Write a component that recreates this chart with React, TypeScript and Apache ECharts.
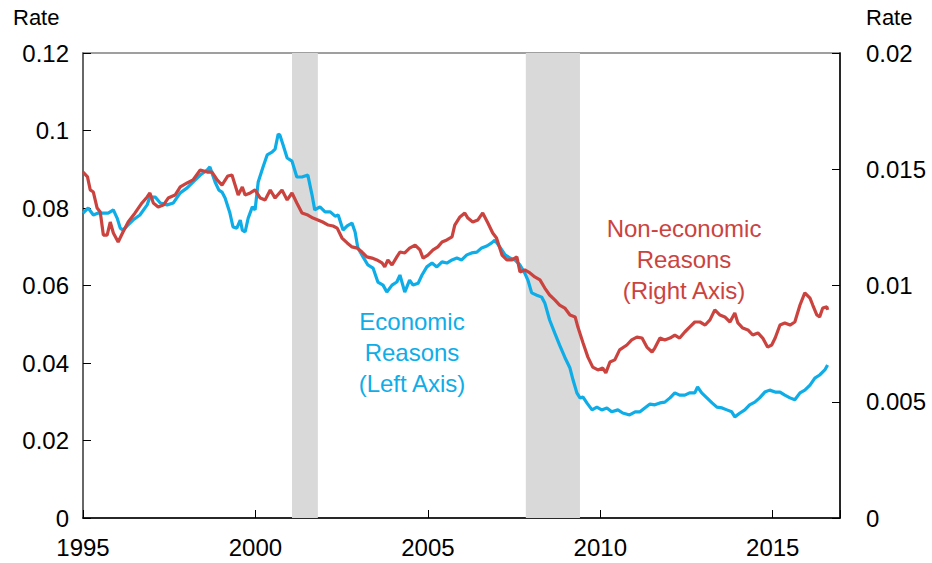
import React, { useEffect, useRef } from "react";
import * as echarts from "echarts";

const econYears = [
  1995.0, 1995.15, 1995.3, 1995.44, 1995.59, 1995.73, 1995.88, 1995.99, 1996.08, 1996.16,
  1996.28, 1996.45, 1996.65, 1996.86, 1996.94, 1997.1, 1997.24, 1997.44, 1997.62, 1997.82,
  1998.02, 1998.19, 1998.4, 1998.6, 1998.68, 1998.83, 1998.94, 1999.03, 1999.12, 1999.26,
  1999.35, 1999.46, 1999.56, 1999.62, 1999.7, 1999.79, 1999.91, 1999.99, 2000.08, 2000.22,
  2000.34, 2000.48, 2000.57, 2000.66, 2000.71, 2000.8, 2000.92, 2001.06, 2001.2, 2001.35,
  2001.52, 2001.64, 2001.72, 2001.87, 2002.02, 2002.17, 2002.31, 2002.4, 2002.54, 2002.66,
  2002.8, 2002.89, 2002.97, 2003.12, 2003.26, 2003.41, 2003.55, 2003.7, 2003.81, 2003.96,
  2004.1, 2004.19, 2004.33, 2004.47, 2004.57, 2004.72, 2004.83, 2004.97, 2005.12, 2005.26,
  2005.41, 2005.55, 2005.7, 2005.84, 2005.98, 2006.13, 2006.27, 2006.42, 2006.56, 2006.71,
  2006.85, 2006.94, 2007.09, 2007.24, 2007.38, 2007.52, 2007.67, 2007.81, 2007.9, 2008.01,
  2008.16, 2008.3, 2008.39, 2008.53, 2008.68, 2008.82, 2008.97, 2009.12, 2009.21, 2009.32,
  2009.41, 2009.5, 2009.61, 2009.76, 2009.9, 2010.04, 2010.19, 2010.33, 2010.51, 2010.65,
  2010.85, 2011.01, 2011.15, 2011.29, 2011.44, 2011.58, 2011.73, 2011.87, 2012.02, 2012.16,
  2012.3, 2012.45, 2012.59, 2012.74, 2012.82, 2012.94, 2013.09, 2013.24, 2013.38, 2013.53,
  2013.67, 2013.81, 2013.9, 2014.05, 2014.19, 2014.33, 2014.48, 2014.62, 2014.77, 2014.91,
  2015.07, 2015.21, 2015.35, 2015.5, 2015.64, 2015.79, 2015.93, 2016.08, 2016.22, 2016.36,
  2016.51, 2016.59,
];
const econRates = [
  0.0787, 0.08, 0.0782, 0.0787, 0.0787, 0.0787, 0.0795, 0.0774, 0.0748, 0.0743,
  0.0754, 0.0769, 0.0782, 0.0808, 0.0828, 0.0828, 0.0813, 0.0808, 0.0813, 0.0839,
  0.0852, 0.0867, 0.0885, 0.0898, 0.0906, 0.0867, 0.0846, 0.0841, 0.0826, 0.0787,
  0.0751, 0.0748, 0.0769, 0.0743, 0.0738, 0.0774, 0.0803, 0.0795, 0.0867, 0.0906,
  0.0937, 0.0944, 0.0952, 0.0991, 0.0988, 0.0963, 0.0929, 0.0921, 0.088, 0.088,
  0.0885, 0.0834, 0.0795, 0.0803, 0.079, 0.079, 0.0779, 0.0782, 0.0743, 0.0754,
  0.0761, 0.0738, 0.0697, 0.0674, 0.0653, 0.0645, 0.0609, 0.0601, 0.0583, 0.0601,
  0.0609, 0.0627, 0.0583, 0.0614, 0.0601, 0.0606, 0.0627, 0.0648, 0.0658, 0.0648,
  0.0661, 0.0658, 0.0666, 0.0671, 0.0666, 0.0679, 0.0684, 0.0686, 0.0697, 0.0702,
  0.071, 0.0717, 0.0699, 0.0679, 0.0671, 0.0666, 0.0653, 0.0632, 0.0614, 0.0581,
  0.0575, 0.057, 0.0555, 0.0511, 0.0477, 0.0446, 0.0415, 0.0387, 0.0356, 0.0323,
  0.031, 0.0312, 0.0297, 0.0279, 0.0286, 0.0279, 0.0284, 0.0274, 0.0279, 0.0271,
  0.0266, 0.0274, 0.0274, 0.0284, 0.0294, 0.0292, 0.0297, 0.0299, 0.031, 0.0323,
  0.0317, 0.0317, 0.0323, 0.0323, 0.0338, 0.0323, 0.031, 0.0297, 0.0286, 0.0284,
  0.0279, 0.0274, 0.0261, 0.0271, 0.0279, 0.0292, 0.0299, 0.031, 0.0325, 0.033,
  0.0325, 0.0325, 0.0317, 0.031, 0.0305, 0.0323, 0.033, 0.0343, 0.0361, 0.0369,
  0.0382, 0.0395,
];

const nonEconYears = [
  1995.0, 1995.13, 1995.21, 1995.3, 1995.41, 1995.5, 1995.59, 1995.7, 1995.79, 1995.88,
  1996.02, 1996.16, 1996.31, 1996.51, 1996.71, 1996.86, 1996.94, 1997.04, 1997.18, 1997.33,
  1997.47, 1997.67, 1997.82, 1998.02, 1998.19, 1998.4, 1998.6, 1998.74, 1998.89, 1999.03,
  1999.2, 1999.32, 1999.41, 1999.5, 1999.62, 1999.7, 1999.85, 1999.99, 2000.14, 2000.28,
  2000.43, 2000.57, 2000.77, 2000.92, 2001.06, 2001.2, 2001.35, 2001.52, 2001.67, 2001.81,
  2001.95, 2002.11, 2002.25, 2002.37, 2002.51, 2002.66, 2002.8, 2002.95, 2003.09, 2003.23,
  2003.38, 2003.52, 2003.67, 2003.75, 2003.84, 2003.96, 2004.1, 2004.19, 2004.33, 2004.47,
  2004.63, 2004.77, 2004.86, 2005.0, 2005.15, 2005.29, 2005.41, 2005.55, 2005.7, 2005.78,
  2005.93, 2006.07, 2006.16, 2006.3, 2006.45, 2006.59, 2006.74, 2006.88, 2006.99, 2007.15,
  2007.29, 2007.44, 2007.58, 2007.67, 2007.81, 2007.96, 2008.1, 2008.25, 2008.39, 2008.53,
  2008.68, 2008.82, 2008.97, 2009.12, 2009.27, 2009.35, 2009.5, 2009.64, 2009.78, 2009.93,
  2010.07, 2010.16, 2010.28, 2010.42, 2010.56, 2010.77, 2010.91, 2011.06, 2011.21, 2011.35,
  2011.5, 2011.58, 2011.73, 2011.87, 2012.02, 2012.16, 2012.3, 2012.45, 2012.59, 2012.74,
  2012.89, 2013.04, 2013.18, 2013.32, 2013.47, 2013.61, 2013.76, 2013.9, 2013.99, 2014.13,
  2014.28, 2014.42, 2014.57, 2014.71, 2014.85, 2014.97, 2015.07, 2015.21, 2015.35, 2015.5,
  2015.64, 2015.79, 2015.93, 2016.08, 2016.16, 2016.28, 2016.36, 2016.45, 2016.57, 2016.59,
];
const nonEconRates = [
  0.01488, 0.01467, 0.01411, 0.01402, 0.01333, 0.01316, 0.01217, 0.01217, 0.01273, 0.01226,
  0.01187, 0.0123, 0.01273, 0.01312, 0.01355, 0.01381, 0.01398, 0.01355, 0.01338, 0.01346,
  0.01376, 0.01389, 0.01424, 0.01441, 0.01454, 0.01497, 0.01488, 0.01488, 0.01454, 0.01432,
  0.01471, 0.01475, 0.01432, 0.01389, 0.01424, 0.01389, 0.01398, 0.01411, 0.01376, 0.01368,
  0.01411, 0.01376, 0.01411, 0.01368, 0.01398, 0.01355, 0.01312, 0.01303, 0.0129, 0.01282,
  0.01273, 0.0126, 0.01256, 0.01247, 0.01204, 0.01183, 0.01166, 0.01161, 0.01144, 0.01123,
  0.01118, 0.0111, 0.01097, 0.0108, 0.0111, 0.01088, 0.01123, 0.01144, 0.0114, 0.01161,
  0.01174, 0.01153, 0.01118, 0.01131, 0.01153, 0.01166, 0.01187, 0.01196, 0.01209, 0.0126,
  0.01295, 0.01312, 0.0129, 0.01273, 0.01282, 0.01312, 0.01269, 0.01226, 0.01204, 0.01131,
  0.0111, 0.0111, 0.01123, 0.01058, 0.01067, 0.01054, 0.01037, 0.01024, 0.00989, 0.00959,
  0.00938, 0.00916, 0.00903, 0.00873, 0.00865, 0.00821, 0.00753, 0.00692, 0.00649, 0.00637,
  0.00645, 0.00624, 0.00671, 0.0068, 0.00723, 0.00744, 0.00766, 0.00778, 0.00774, 0.00735,
  0.00714, 0.00731, 0.00774, 0.00766, 0.00774, 0.00787, 0.00774, 0.008, 0.00821, 0.00843,
  0.00843, 0.0083, 0.00852, 0.00895, 0.00873, 0.00865, 0.00843, 0.00882, 0.00839, 0.00817,
  0.00809, 0.00787, 0.00796, 0.00774, 0.00735, 0.00744, 0.00774, 0.0083, 0.00839, 0.0083,
  0.00843, 0.00916, 0.00968, 0.00946, 0.00916, 0.00873, 0.00865, 0.00903, 0.00908, 0.00895,
];

const recessions = [
  [2001.06, 2001.81],
  [2007.84, 2009.41],
];

const xTicks = [1995, 2000, 2005, 2010, 2015];
const leftTicks = [0, 0.02, 0.04, 0.06, 0.08, 0.1, 0.12];
const rightTicks = [0, 0.005, 0.01, 0.015, 0.02];

const BLUE = "#0EADE8";
const RED = "#CB433F";
const FONT = "'Liberation Sans', Arial, sans-serif";

export default function App() {
  const ref = useRef<HTMLDivElement>(null);

  useEffect(() => {
    if (!ref.current) return;
    const chart = echarts.init(ref.current, null, { renderer: "svg" });

    const econData = econYears.map((y, i) => [y, econRates[i]]);
    const nonEconData = nonEconYears.map((y, i) => [y, nonEconRates[i]]);

    const axisLabel = { color: "#000", fontSize: 24, fontFamily: FONT };

    chart.setOption({
      animation: false,
      backgroundColor: "#fff",
      grid: {
        left: 83,
        right: 92,
        top: 53,
        bottom: 45,
        show: true,
        borderColor: "#808080",
        borderWidth: 1.5,
      },
      xAxis: {
        type: "value",
        min: xTicks[0],
        max: 2016.95,
        interval: 5,
        axisLine: { show: true, lineStyle: { color: "#000", width: 1.5 } },
        axisTick: { show: true, inside: true, length: 8, lineStyle: { color: "#000" } },
        splitLine: { show: false },
        axisLabel: {
          ...axisLabel,
          margin: 17,
          formatter: (v: number) => (xTicks.includes(Math.round(v * 100) / 100) ? String(v) : ""),
        },
      },
      yAxis: [
        {
          type: "value",
          min: leftTicks[0],
          max: leftTicks[leftTicks.length - 1],
          interval: 0.02,
          position: "left",
          axisLine: { show: true, lineStyle: { color: "#555", width: 1.5 } },
          axisTick: { show: true, inside: true, length: 8, lineStyle: { color: "#000" } },
          splitLine: { show: false },
          axisLabel: { ...axisLabel, margin: 14 },
        },
        {
          type: "value",
          min: rightTicks[0],
          max: rightTicks[rightTicks.length - 1],
          interval: 0.005,
          position: "right",
          axisLine: { show: true, lineStyle: { color: "#000", width: 1.5 } },
          axisTick: { show: true, inside: true, length: 8, lineStyle: { color: "#000" } },
          splitLine: { show: false },
          axisLabel: { ...axisLabel, margin: 26 },
        },
      ],
      graphic: [
        { type: "text", left: 13, top: 6, style: { text: "Rate", fontSize: 22, fontFamily: FONT, fill: "#000" } },
        { type: "text", left: 866, top: 6, style: { text: "Rate", fontSize: 22, fontFamily: FONT, fill: "#000" } },
        {
          type: "text",
          x: 412,
          y: 306,
          style: {
            text: "Economic\nReasons\n(Left Axis)",
            fontSize: 24,
            lineHeight: 31,
            fontFamily: FONT,
            fill: BLUE,
            align: "center",
          },
        },
        {
          type: "text",
          x: 684,
          y: 213,
          style: {
            text: "Non-economic\nReasons\n(Right Axis)",
            fontSize: 24,
            lineHeight: 31,
            fontFamily: FONT,
            fill: RED,
            align: "center",
          },
        },
      ],
      series: [
        {
          name: "Recessions",
          type: "line",
          data: [],
          yAxisIndex: 0,
          z: 1,
          silent: true,
          markArea: {
            silent: true,
            itemStyle: { color: "#D9D9D9", opacity: 1 },
            data: recessions.map(([a, b]) => [{ xAxis: a }, { xAxis: b }]),
          },
        },
        {
          name: "Economic Reasons",
          type: "line",
          yAxisIndex: 0,
          data: econData,
          showSymbol: false,
          symbol: "none",
          z: 3,
          lineStyle: { color: BLUE, width: 3.2 },
          itemStyle: { color: BLUE },
        },
        {
          name: "Non-economic Reasons",
          type: "line",
          yAxisIndex: 1,
          data: nonEconData,
          showSymbol: false,
          symbol: "none",
          z: 4,
          lineStyle: { color: RED, width: 3.2 },
          itemStyle: { color: RED },
        },
      ],
    });

    return () => chart.dispose();
  }, []);

  return (
    <div
      ref={ref}
      style={{ position: "fixed", left: 0, top: 0, width: 932, height: 563, background: "#fff" }}
    />
  );
}
